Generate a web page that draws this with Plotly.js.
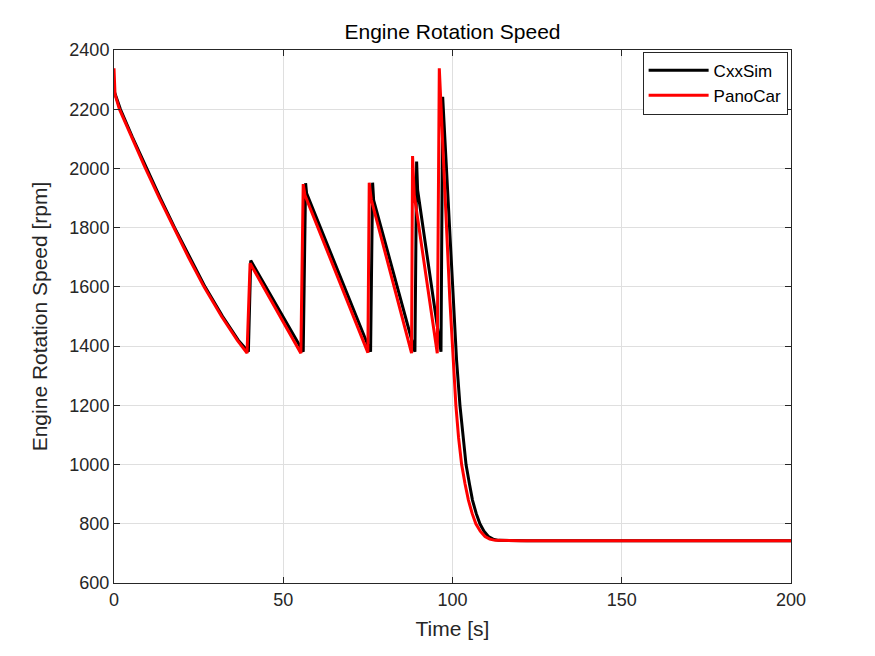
<!DOCTYPE html>
<html>
<head>
<meta charset="utf-8">
<script src="https://cdn.plot.ly/plotly-3.0.1.min.js"></script>
<style>
  html, body { margin: 0; padding: 0; background: #fff; }
  #chart { width: 875px; height: 656px; }
</style>
</head>
<body>
<div id="chart"></div>
<script>
// CxxSim run (black)
var cxxTime = [0, 1.9, 5.4, 9.6, 13.7, 17.9, 22.3, 26.9, 32.1, 36.7, 39.7, 40.4, 55.9, 56.6, 56.9,
  75.8, 76.4, 76.7, 88.9, 89.4, 89.7, 96.6, 97.1, 100.3, 101.2, 102.2, 103.1, 104.0, 105.0,
  105.9, 107.0, 108.1, 109.3, 110.6, 112.0, 113.6, 122, 200];
var cxxSpeed = [2262, 2200, 2107, 2000, 1900, 1800, 1700, 1600, 1500, 1420, 1381, 1689, 1381, 1950, 1916,
  1381, 1952, 1893, 1381, 2023, 1927, 1381, 2242, 1560, 1353, 1200, 1090, 1000, 935,
  880, 835, 800, 775, 757, 748, 744, 743, 743];

// PanoCar run (red)
var panoTime = [0, 0.3, 1.6, 5.1, 9.3, 13.4, 17.6, 22.0, 26.6, 31.8, 36.4, 39.3, 40.2, 55.2, 55.9, 56.4,
  75.0, 75.4, 76.0, 87.9, 88.2, 88.7, 95.5, 96.1, 99.2, 100.2, 101.0, 101.8, 102.7, 103.7,
  104.7, 105.8, 106.9, 108.2, 109.6, 111.0, 112.6, 120, 200];
var panoSpeed = [2338, 2250, 2200, 2107, 2000, 1900, 1800, 1700, 1600, 1500, 1420, 1376, 1680, 1376, 1947, 1910,
  1378, 1952, 1895, 1376, 2042, 1910, 1376, 2338, 1560, 1353, 1200, 1090, 1000, 935,
  880, 835, 800, 775, 757, 748, 744, 743, 743];

var xTicks = [0, 50, 100, 150, 200];
var yTicks = [600, 800, 1000, 1200, 1400, 1600, 1800, 2000, 2200, 2400];

var axisColor = '#262626';
var fontName = 'Liberation Sans, Arial, sans-serif';

var traces = [
  {
    x: cxxTime, y: cxxSpeed, name: 'CxxSim', type: 'scatter', mode: 'lines',
    line: { color: '#000000', width: 3 }
  },
  {
    x: panoTime, y: panoSpeed, name: 'PanoCar', type: 'scatter', mode: 'lines',
    line: { color: '#ff0000', width: 3 }
  }
];

var layout = {
  width: 875,
  height: 656,
  margin: { l: 114, r: 84, t: 50, b: 73 },
  paper_bgcolor: '#ffffff',
  plot_bgcolor: '#ffffff',
  font: { family: fontName, color: axisColor, size: 18 },
  showlegend: true,
  title: {
    text: 'Engine Rotation Speed',
    font: { family: fontName, size: 21, color: '#000000' },
    x: 0.5, xref: 'paper', xanchor: 'center',
    y: 1 - 32 / 656, yref: 'container', yanchor: 'middle'
  },
  xaxis: {
    range: [0, 200],
    tickvals: xTicks,
    ticktext: xTicks.map(String),
    showgrid: true, gridcolor: '#dfdfdf', gridwidth: 1,
    zeroline: false,
    showline: true, linecolor: axisColor, linewidth: 1, mirror: 'ticks',
    ticks: 'inside', ticklen: 6, tickcolor: axisColor,
    tickfont: { size: 18, color: axisColor },
    title: { text: 'Time [s]', font: { size: 21, color: axisColor }, standoff: 12 }
  },
  yaxis: {
    range: [600, 2400],
    tickvals: yTicks,
    ticktext: yTicks.map(String),
    showgrid: true, gridcolor: '#dfdfdf', gridwidth: 1,
    zeroline: false,
    showline: true, linecolor: axisColor, linewidth: 1, mirror: 'ticks',
    ticks: 'inside', ticklen: 6, tickcolor: axisColor,
    tickfont: { size: 18, color: axisColor },
    title: { text: 'Engine Rotation Speed [rpm]', font: { size: 21, color: axisColor }, standoff: 16 }
  },
  legend: {
    x: 0.995, y: 0.997, xanchor: 'right', yanchor: 'top',
    bgcolor: '#ffffff', bordercolor: axisColor, borderwidth: 1,
    font: { size: 17, color: '#000000' },
    itemwidth: 60, tracegroupgap: 0
  }
};

Plotly.newPlot('chart', traces, layout, { displayModeBar: false, staticPlot: true });
</script>
</body>
</html>
